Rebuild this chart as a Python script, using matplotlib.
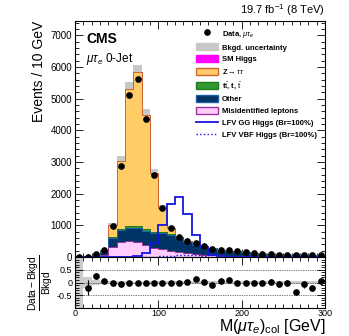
import numpy as np
import matplotlib
matplotlib.use("Agg")
import matplotlib.pyplot as plt
from matplotlib.patches import Patch
from matplotlib.lines import Line2D
from matplotlib.ticker import MultipleLocator

plt.rcParams['font.family'] = ['Liberation Sans', 'DejaVu Sans']
plt.rcParams['mathtext.fontset'] = 'custom'
plt.rcParams['mathtext.rm'] = 'Liberation Sans'
plt.rcParams['mathtext.it'] = 'Liberation Sans:italic'
plt.rcParams['axes.unicode_minus'] = False

# 10 GeV bins, 0-300 GeV
edges = np.arange(0, 310, 10)

data = [0, 8, 95, 228, 980, 2880, 5100, 5620, 4370, 2585, 1550, 908, 630, 506, 453,
        345, 253, 231, 212, 180, 155, 117, 105, 90, 75, 75, 60, 60, 55, 50]

misid = [1, 3, 20, 60, 325, 470, 510, 470, 380, 300, 240, 190, 150, 120, 100,
         80, 65, 55, 45, 40, 35, 30, 26, 22, 20, 18, 17, 15, 14, 12]
other = [1, 4, 35, 110, 275, 370, 410, 460, 450, 460, 520, 500, 440, 340, 270,
         225, 192, 148, 131, 130, 114, 78, 71, 58, 53, 52, 71, 44, 50, 31]
ttbar = [0, 0, 3, 10, 40, 50, 50, 50, 50, 45, 40, 35, 30, 25, 20,
         17, 14, 12, 10, 9, 8, 7, 6, 5, 5, 5, 5, 4, 4, 3]
ztt = [1, 3, 18, 35, 374, 2128, 4327, 4846, 3595, 1839, 754, 199, 20, 6, 7,
       7, 5, 3, 4, 4, 0, 2, 2, 2, 2, 2, 2, 2, 2, 2]
smh = [0, 0, 0, 0, 1, 2, 3, 4, 5, 6, 6, 6, 5, 4, 3,
       3, 2, 2, 1, 1, 1, 1, 1, 0, 0, 0, 0, 0, 0, 0]

unc = [1.0, 0.20, 0.10, 0.07, 0.07, 0.06, 0.045, 0.04, 0.04, 0.045, 0.05, 0.05, 0.05, 0.05, 0.05,
       0.05, 0.05, 0.05, 0.05, 0.05, 0.05, 0.055, 0.055, 0.06, 0.06, 0.06, 0.06, 0.065, 0.065, 0.07]

lfv_gg = [0, 0, 0, 0, 0, 0, 5, 30, 130, 450, 1000, 1680, 1910, 1360, 700,
          320, 70, 20, 8, 3, 1, 0, 0, 0, 0, 0, 0, 0, 0, 0]
lfv_vbf = [0, 0, 0, 0, 0, 0, 0, 1, 3, 8, 20, 45, 70, 80, 60,
           35, 15, 5, 2, 1, 0, 0, 0, 0, 0, 0, 0, 0, 0, 0]

data = np.array(data, dtype=float)
unc = np.array(unc)
layers = [
    (misid, '#FFCCFF', '#993399'),
    (other, '#003366', '#1F5FA8'),
    (ttbar, '#339933', '#1E7A1E'),
    (ztt, '#FFCC66', '#CC6633'),
    (smh, '#FF00FF', '#FF00FF'),
]
cums = np.cumsum([np.array(l[0], dtype=float) for l in layers], axis=0)
total = cums[-1]
centers = 0.5 * (edges[:-1] + edges[1:])

fig = plt.figure(figsize=(3.49, 3.36), dpi=100)
ax = fig.add_axes([0.215, 0.235, 0.716, 0.7025])
rax = fig.add_axes([0.215, 0.0833, 0.716, 0.1517], sharex=ax)

# uncertainty band, then stack drawn over it
ax.stairs(total * (1 + unc), edges, baseline=total * (1 - unc), fill=True,
          color='#C8C8C8', lw=0, zorder=1)
for i in range(len(layers) - 1, -1, -1):
    _, fc, ec = layers[i]
    ax.stairs(cums[i], edges, baseline=0, fill=True, facecolor=fc,
              edgecolor=ec, lw=0.7, zorder=2)

ax.stairs(lfv_gg, edges, baseline=0, color='#1515E0', lw=1.3, zorder=3)
ax.stairs(lfv_vbf, edges, baseline=0, color='#1515E0', lw=1.0, ls=':', zorder=3)

ax.errorbar(centers, data, yerr=np.sqrt(data), fmt='o', color='black', ms=3.8,
            elinewidth=0.8, capsize=0, zorder=4)

ax.set_xlim(0, 300)
ax.set_ylim(0, 7450)
ax.yaxis.set_major_locator(MultipleLocator(1000))
ax.yaxis.set_minor_locator(MultipleLocator(200))
ax.xaxis.set_major_locator(MultipleLocator(100))
ax.xaxis.set_minor_locator(MultipleLocator(10))
ax.tick_params(which='both', direction='in', top=True, right=True, labelsize=7, pad=2)
ax.tick_params(which='major', length=6, width=0.6)
ax.tick_params(which='minor', length=3, width=0.6)
ax.tick_params(axis='x', labelbottom=False)
ax.set_ylabel('Events / 10 GeV', fontsize=10, loc='top', labelpad=3)

ax.text(0.045, 0.955, 'CMS', transform=ax.transAxes, fontsize=10, fontweight='bold',
        va='top', ha='left')
ax.text(0.045, 0.875, r'$\mu\tau_{e}$ 0-Jet', transform=ax.transAxes, fontsize=8.5,
        va='top', ha='left')
ax.text(1.0, 1.012, r'19.7 fb$^{-1}$ (8 TeV)', transform=ax.transAxes, fontsize=8,
        va='bottom', ha='right')

handles = [
    Line2D([], [], marker='o', color='black', ls='none', ms=3.8),
    Patch(facecolor='#C8C8C8', edgecolor='#C8C8C8'),
    Patch(facecolor='#FF00FF', edgecolor='#FF00FF'),
    Patch(facecolor='#FFCC66', edgecolor='#CC6633'),
    Patch(facecolor='#339933', edgecolor='#1E7A1E'),
    Patch(facecolor='#003366', edgecolor='#1F5FA8'),
    Patch(facecolor='#FFCCFF', edgecolor='#993399'),
    Line2D([], [], color='#1515E0', lw=1.3),
    Line2D([], [], color='#1515E0', lw=1.0, ls=':'),
]
labels = [r'Data, $\mu\tau_{e}$', 'Bkgd. uncertainty', 'SM Higgs', r'Z$\rightarrow\tau\tau$',
          r't$\bar{\rm t}$, t, $\bar{\rm t}$', 'Other', 'Misidentified leptons',
          'LFV GG Higgs (Br=100%)', 'LFV VBF Higgs (Br=100%)']
ax.legend(handles, labels, loc='upper left', bbox_to_anchor=(0.484, 0.968),
          frameon=False, prop={'size': 5.5, 'weight': 'bold'}, handlelength=2.9,
          handleheight=1.05, handletextpad=0.5, labelspacing=0.5,
          borderpad=0, borderaxespad=0)

# ratio panel
mask = data > 0
ratio = (data - total) / total
rerr = np.sqrt(data) / total
rax.stairs(unc, edges, baseline=-unc, fill=True, color='#CCCCCC', lw=0, zorder=1)
for yv in (0.5, 0.0, -0.5):
    rax.axhline(yv, color='black', ls=(0, (1, 1.5)), lw=0.5, zorder=2)
rax.errorbar(centers[mask], ratio[mask], yerr=rerr[mask], fmt='o', color='black',
             ms=3.8, elinewidth=0.8, capsize=0, zorder=3)
rax.set_ylim(-1, 1)
rax.set_yticks([-0.5, 0, 0.5])
rax.set_yticklabels(['-0.5', '0', '0.5'])
rax.yaxis.set_minor_locator(MultipleLocator(0.1))
rax.tick_params(which='both', direction='in', top=True, right=True, pad=2)
rax.tick_params(axis='y', labelsize=6.5)
rax.tick_params(axis='x', labelsize=6.5, pad=0.5)
rax.tick_params(which='major', length=6, width=0.6)
rax.tick_params(which='minor', length=3, width=0.6)
rax.set_ylabel(r'$\frac{\mathrm{Data-Bkgd}}{\mathrm{Bkgd}}$', fontsize=10.5, labelpad=1)
fig.text(0.934, 0.016, r'M($\mu\tau_{e}$)$_{\rm col}$ [GeV]', fontsize=11.5,
         ha='right', va='baseline')

fig.savefig('out.png', dpi=100)
